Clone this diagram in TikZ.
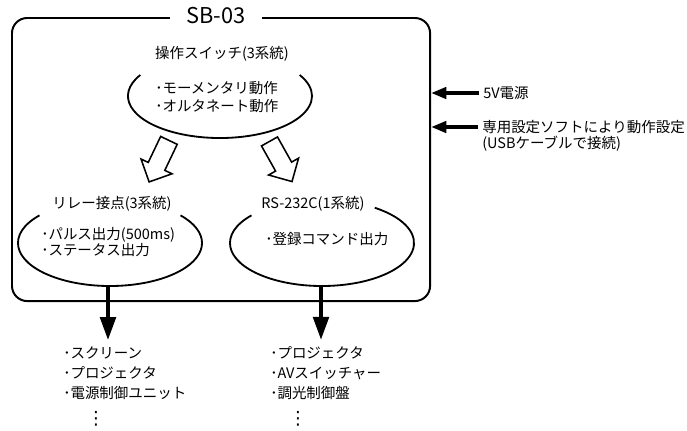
\documentclass[tikz,border=0pt]{standalone}
\usepackage{fontspec}
\setmainfont{Noto Sans CJK JP}
\newfontfamily\symfont{DejaVu Sans}
\usetikzlibrary{shapes.arrows}
\usetikzlibrary{arrows.meta}
\tikzset{
    boxline/.style = {draw=black, line width=1.4pt, rounded corners=0.38cm, inner sep=0pt},
    ovalline/.style = {line width=1.3pt, black},
    titlenode/.style = {fill=white, inner xsep=0.42cm, inner ysep=2pt, font=\fontsize{15.5}{18}\selectfont},
    headnode/.style = {inner sep=0pt, font=\fontsize{10.3}{12}\selectfont},
    itemnode/.style = {inner sep=0pt, align=left, anchor=west, font=\fontsize{10.3}{12.8}\selectfont},
    hollowarr/.style = {single arrow, draw=black, line width=1.1pt, fill=white, minimum height=1.15cm, inner sep=0.21cm, single arrow head extend=0.2cm},
    edgedown/.style = {-{Triangle[length=0.58cm,width=0.38cm]}, line width=3.2pt, black},
    edgein/.style = {-{Triangle[length=0.38cm,width=0.28cm]}, line width=2.6pt, black},
    dotsnode/.style = {inner sep=0pt, font=\symfont\fontsize{13}{14}\selectfont}
}

\begin{document}
\begin{tikzpicture}[x=0.025cm, y=-0.025cm]
  \useasboundingbox (0,0) rectangle (687,430);

  % SB-03 box
  \node[boxline, anchor=north west, minimum width=10.45cm, minimum height=7.075cm] (sb) at (11,17) {};
  \node[titlenode] (sbt) at (216,16) {SB-03};

  % switch oval
  \coordinate (swc) at (220,96);
  \draw[ovalline] (swc) ++(150:2.3cm and 1.05cm) arc[start angle=150, end angle=390, x radius=2.3cm, y radius=1.05cm];
  \node[headnode] (swt) at (222,54) {操作スイッチ(3系統)};
  \node[itemnode] (swi) at (155,97) {･モーメンタリ動作\\･オルタネート動作};

  \node[hollowarr, rotate=244.5] (arrl) at (161,157) {};
  \node[hollowarr, rotate=299.3] (arrr) at (278.5,157.5) {};

  % relay oval
  \coordinate (rlc) at (110,243);
  \coordinate (rlb) at (108,286);
  \draw[ovalline] (rlc) ++(140:2.3cm and 1.075cm) arc[start angle=140, end angle=400, x radius=2.3cm, y radius=1.075cm];
  \node[headnode] (rlt) at (112,204) {リレー接点(3系統)};
  \node[itemnode, font=\fontsize{10.3}{12}\selectfont] (rli) at (41,242) {･パルス出力(500ms)\\･ステータス出力};

  % RS-232C oval
  \coordinate (rsc) at (322,243);
  \coordinate (rsb) at (321,286);
  \draw[ovalline] (rsc) ++(140:2.3cm and 1.075cm) arc[start angle=140, end angle=415, x radius=2.3cm, y radius=1.075cm];
  \node[headnode] (rst) at (313,204) {RS-232C(1系統)};
  \node[itemnode] (rsi) at (265,239) {･登録コマンド出力};

  % outputs
  \node[itemnode, font=\fontsize{10.3}{14.2}\selectfont] (scr) at (63,373) {･スクリーン\\･プロジェクタ\\･電源制御ユニット};
  \node[dotsnode] (scrd) at (96,419) {⋮};
  \node[itemnode, font=\fontsize{10.3}{14.2}\selectfont] (prj) at (270,373) {･プロジェクタ\\･AVスイッチャー\\･調光制御盤};
  \node[dotsnode] (prjd) at (298,419) {⋮};

  \draw[edgedown, shorten >=0.15cm] (rlb) -- (rlb |- scr.north);
  \draw[edgedown, shorten >=0.15cm] (rsb) -- (rsb |- prj.north);

  % inputs
  \node[itemnode] (pwr) at (483,93) {5V電源};
  \node[itemnode] (usbset) at (482,127) {専用設定ソフトにより動作設定};
  \node[itemnode, anchor=north west] (usbnote) at ([yshift=-1.5pt]usbset.south west) {(USBケーブルで接続)};

  \draw[edgein, shorten <=0.1cm] (pwr.west) -- (pwr.west -| sb.east);
  \draw[edgein, shorten <=0.1cm] (usbset.west) -- (usbset.west -| sb.east);

\end{tikzpicture}
\end{document}
